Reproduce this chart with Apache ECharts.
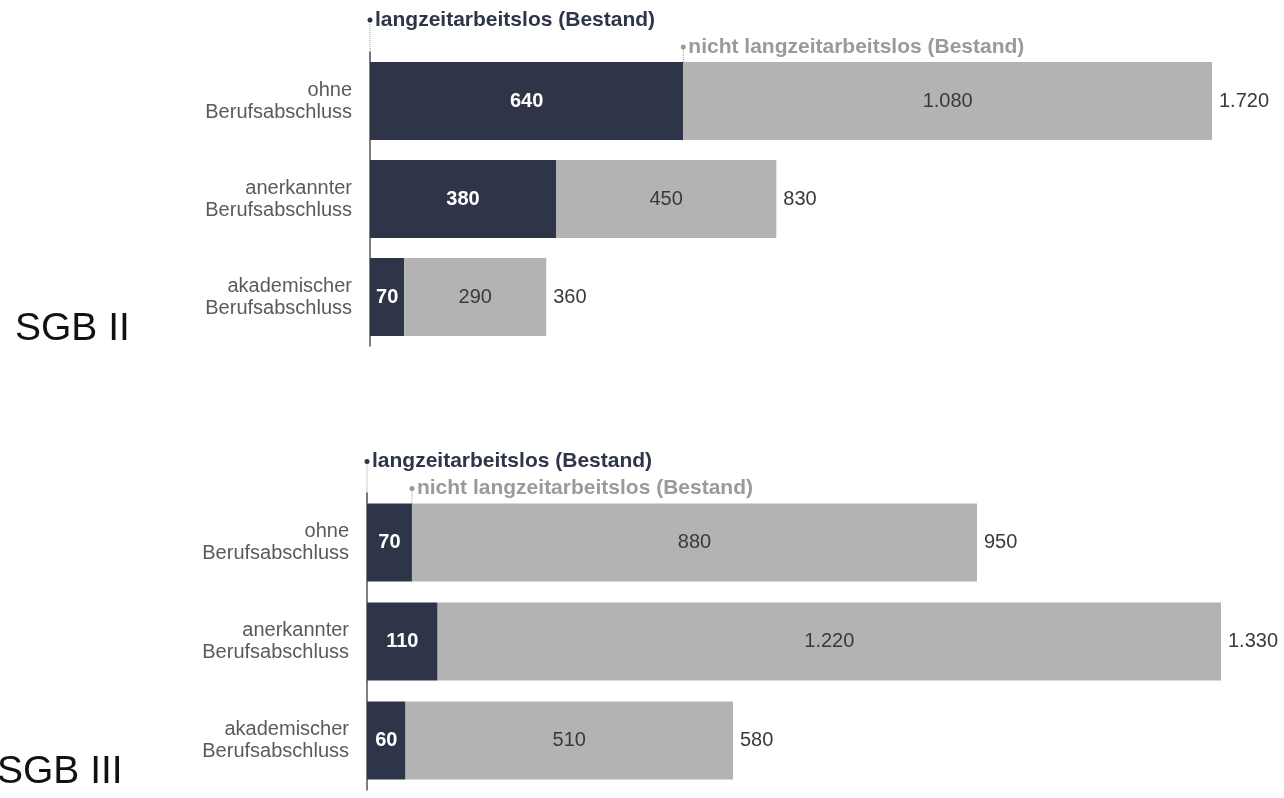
<!DOCTYPE html>
<html><head><meta charset="utf-8">
<script src="https://cdn.jsdelivr.net/npm/echarts@6/dist/echarts.min.js"></script>
<style>html,body{margin:0;padding:0;background:#fff}#c{width:1284px;height:798px}</style>
</head><body><div id="c"></div>
<script>
const categories = ['ohne\nBerufsabschluss', 'anerkannter\nBerufsabschluss', 'akademischer\nBerufsabschluss'];
const sgb2Lang = [640, 380, 70];
const sgb2Nicht = [1080, 450, 290];
const sgb2Total = [1720, 830, 360];
const sgb3Lang = [70, 110, 60];
const sgb3Nicht = [880, 1220, 510];
const sgb3Total = [950, 1330, 580];
const panelTitles = ['SGB II', 'SGB III'];
const legendNames = ['langzeitarbeitslos (Bestand)', 'nicht langzeitarbeitslos (Bestand)'];

const DARK = '#2e3549', GRAY = '#b3b3b3';
const FONT = 'Liberation Sans, Arial, sans-serif';
const fmt = v => String(v).replace(/\B(?=(\d{3})+(?!\d))/g, '.');

const grids = [
  {left: 370, width: 842, top: 52, height: 294},
  {left: 367, width: 854, top: 493, height: 297}
];
const maxes = [1720, 1330];
const sets = [[sgb2Lang, sgb2Nicht, sgb2Total], [sgb3Lang, sgb3Nicht, sgb3Total]];

const xAxis = [], yAxis = [], series = [];
grids.forEach((g, i) => {
  xAxis.push({gridIndex: i, type: 'value', min: 0, max: maxes[i], show: false});
  yAxis.push({gridIndex: i, type: 'category', data: categories, inverse: true,
    axisLine: {show: true, lineStyle: {color: '#555', width: 1.5}},
    axisTick: {show: false},
    axisLabel: {color: '#5a5a5a', fontSize: 20, lineHeight: 22, fontFamily: FONT, margin: 18, align: 'right'}});
  const [lang, nicht, total] = sets[i];
  series.push({type: 'bar', xAxisIndex: i, yAxisIndex: i, stack: 's' + i, data: lang, barWidth: 78,
    itemStyle: {color: DARK},
    label: {show: true, position: 'inside', color: '#fff', fontWeight: 'bold', fontSize: 20, fontFamily: FONT, formatter: p => fmt(p.value)}});
  series.push({type: 'bar', xAxisIndex: i, yAxisIndex: i, stack: 's' + i, data: nicht, barWidth: 78,
    itemStyle: {color: GRAY},
    label: {show: true, position: 'inside', color: '#3a3a3a', fontSize: 20, fontFamily: FONT, formatter: p => fmt(p.value)}});
  // zero-width carrier at the end of each stack, labelled with the reported total
  series.push({type: 'bar', xAxisIndex: i, yAxisIndex: i, stack: 's' + i, data: total.map(() => 0), barWidth: 78,
    itemStyle: {color: 'rgba(0,0,0,0)'}, silent: true,
    label: {show: true, position: 'right', distance: 7, color: '#3a3a3a', fontSize: 20, fontFamily: FONT,
      formatter: p => fmt(total[p.dataIndex])}});
});

const chart = echarts.init(document.getElementById('c'), null, {renderer: 'canvas'});
chart.setOption({animation: false, grid: grids, xAxis, yAxis, series});

const graphic = [];
grids.forEach((g, i) => {
  const [lang] = sets[i];
  const barTop = chart.convertToPixel({yAxisIndex: i}, 0) - 39;
  const x0 = chart.convertToPixel({xAxisIndex: i}, 0);
  const x1 = chart.convertToPixel({xAxisIndex: i}, lang[0]);
  const legendY = [barTop - 42, barTop - 15];
  const xs = [x0, x1];
  const colors = [DARK, '#9a9a9a'];
  xs.forEach((x, k) => {
    graphic.push({type: 'line', shape: {x1: x, y1: legendY[k], x2: x, y2: barTop},
      style: {stroke: '#999', lineWidth: 1, lineDash: [1, 1]}});
    graphic.push({type: 'circle', shape: {cx: x, cy: legendY[k], r: 2.5}, style: {fill: colors[k]}});
    graphic.push({type: 'text', x: x + 5, y: legendY[k], style: {text: legendNames[k], fill: colors[k],
      font: 'bold 21px ' + FONT, verticalAlign: 'middle'}});
  });
  const midY = chart.convertToPixel({yAxisIndex: i}, 2) + 32;
  graphic.push({type: 'text', x: i === 0 ? 15 : -3, y: midY, style: {text: panelTitles[i], fill: '#111',
    font: '39px ' + FONT, verticalAlign: 'middle'}});
});
chart.setOption({graphic});
</script></body></html>
